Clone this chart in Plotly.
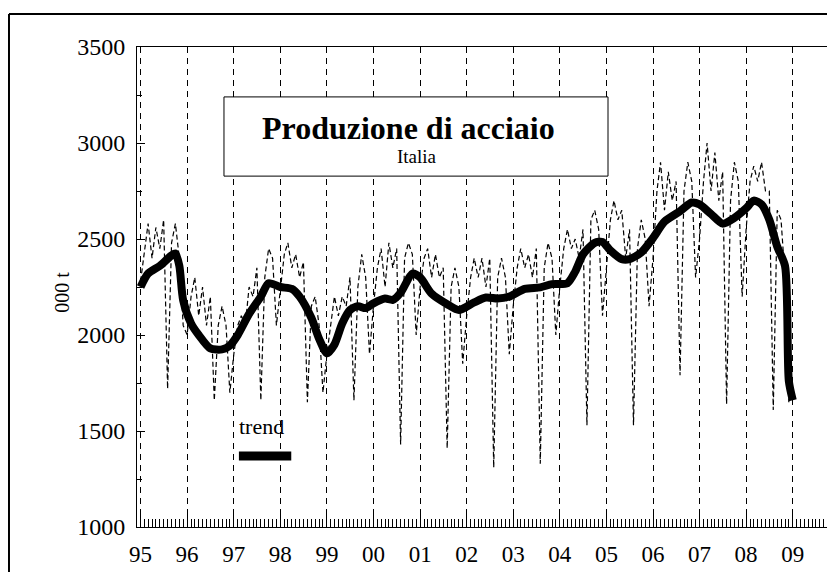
import plotly.graph_objects as go

# monthly steel production, Italy ('000 t), Jan 1995 - Dec 2008
years = list(range(1995, 2009))
monthly = {
    1995: [2280, 2450, 2580, 2400, 2560, 2450, 2600, 1720, 2480, 2580, 2400, 2050],
    1996: [2000, 2200, 2300, 2100, 2250, 2050, 2200, 1660, 2050, 2150, 2050, 1700],
    1997: [1900, 2050, 2100, 2050, 2250, 2200, 2350, 1660, 2300, 2450, 2400, 2050],
    1998: [2250, 2420, 2480, 2350, 2420, 2300, 2380, 1650, 2150, 2200, 2050, 1700],
    1999: [1900, 2050, 2200, 2100, 2200, 2150, 2300, 1660, 2250, 2420, 2300, 1900],
    2000: [2150, 2350, 2450, 2250, 2480, 2350, 2450, 1430, 2400, 2480, 2420, 2000],
    2001: [2250, 2400, 2450, 2300, 2420, 2300, 2350, 1410, 2250, 2350, 2250, 1850],
    2002: [2100, 2300, 2400, 2300, 2400, 2250, 2400, 1310, 2300, 2400, 2300, 1900],
    2003: [2150, 2350, 2450, 2350, 2420, 2300, 2450, 1330, 2350, 2480, 2400, 2000],
    2004: [2250, 2450, 2550, 2450, 2500, 2400, 2550, 1530, 2600, 2650, 2550, 2100],
    2005: [2350, 2600, 2700, 2600, 2650, 2400, 2550, 1530, 2450, 2600, 2500, 2150],
    2006: [2400, 2750, 2900, 2650, 2850, 2700, 2800, 1790, 2750, 2900, 2800, 2300],
    2007: [2500, 2800, 3000, 2750, 2950, 2700, 2850, 1640, 2700, 2900, 2800, 2200],
    2008: [2550, 2800, 2880, 2800, 2900, 2750, 2750, 1610, 2650, 2600, 2300, 1650],
}

trend_dates = [
    "1995-01", "1995-03", "1995-06", "1995-09", "1995-10", "1995-11", "1995-12",
    "1996-02", "1996-04", "1996-07", "1996-10", "1996-12",
    "1997-02", "1997-05", "1997-08", "1997-10",
    "1998-01", "1998-04", "1998-06", "1998-09", "1998-11",
    "1999-01", "1999-03", "1999-05", "1999-07", "1999-09", "1999-11",
    "2000-01", "2000-04", "2000-06", "2000-08", "2000-11",
    "2001-01", "2001-04", "2001-08", "2001-11",
    "2002-03", "2002-06", "2002-09", "2002-12",
    "2003-04", "2003-08", "2003-11",
    "2004-03", "2004-05", "2004-07", "2004-10", "2004-12",
    "2005-02", "2005-05", "2005-07", "2005-10",
    "2006-01", "2006-04", "2006-08", "2006-11",
    "2007-01", "2007-04", "2007-07", "2007-10",
    "2008-01", "2008-03", "2008-05", "2008-07", "2008-09", "2008-11", "2008-12",
    "2009-01",
]
trend_values = [
    2250, 2320, 2360, 2415, 2425, 2360, 2180,
    2060, 2000, 1930, 1925, 1945,
    2000, 2110, 2200, 2270,
    2250, 2240, 2200, 2090, 1980,
    1905, 1950, 2060, 2130, 2150, 2140,
    2165, 2190, 2183, 2220, 2320,
    2300, 2215, 2160, 2130,
    2170, 2195, 2190, 2200,
    2240, 2248, 2265,
    2270, 2330, 2420, 2480, 2485,
    2440, 2395, 2395, 2430,
    2505, 2590, 2645, 2690,
    2680, 2630, 2580, 2610,
    2660, 2700, 2680, 2600, 2460, 2360, 1760,
    1660,
]

month_dates = [f"{y}-{m:02d}" for y in years for m in range(1, 13)]
month_values = [v for y in years for v in monthly[y]]

SERIF = "Liberation Serif"

fig = go.Figure()
fig.add_trace(go.Scatter(
    x=month_dates, y=month_values, mode="lines",
    line=dict(color="black", width=1.2, dash="5px,3px"), showlegend=False,
))
fig.add_trace(go.Scatter(
    x=trend_dates, y=trend_values, mode="lines",
    line=dict(color="black", width=8, shape="spline", smoothing=0.7), showlegend=False,
))

# page body keeps its default 8px margin, so the figure is shifted by 8px
fig.update_layout(
    width=827, height=564,
    margin=dict(l=129, r=0, t=39, b=45),
    paper_bgcolor="white", plot_bgcolor="white",
    font=dict(family=SERIF, color="black", size=23),
    showlegend=False,
)

fig.update_xaxes(
    type="date", range=["1994-12-04", "2009-11-28"], automargin=False,
    tick0="1995-01-01", dtick="M12", tickformat="%y",
    ticks="inside", ticklen=12, tickcolor="black", tickwidth=1,
    minor=dict(dtick="M1", ticks="inside", ticklen=8, tickcolor="black", tickwidth=1),
    showgrid=True, gridcolor="black", gridwidth=1, griddash="6px,5px",
    showline=True, linecolor="black", linewidth=1, mirror=True,
    tickfont=dict(size=23, family=SERIF), ticklabelstandoff=6,
)
fig.update_yaxes(
    range=[1000, 3500], dtick=500, automargin=False,
    ticks="inside", ticklen=8, tickcolor="black",
    minor=dict(dtick=250, ticks="inside", ticklen=5, tickcolor="black"),
    showgrid=False, zeroline=False,
    showline=True, linecolor="black", linewidth=1,
    tickfont=dict(size=24, family=SERIF), ticklabelstandoff=6,
)

# paper coordinates below are relative to a 698x480 plot area
# title box
fig.add_shape(type="rect", xref="paper", yref="paper",
              x0=0.1246, x1=0.6748, y0=0.731, y1=0.896,
              line=dict(color="black", width=1), fillcolor="white", layer="above")
fig.add_annotation(text="<b>Produzione di acciaio</b>", xref="paper", yref="paper",
                   x=0.389, y=0.831, xanchor="center", yanchor="middle",
                   showarrow=False, font=dict(size=32, family=SERIF))
fig.add_annotation(text="Italia", xref="paper", yref="paper",
                   x=0.401, y=0.771, xanchor="center", yanchor="middle",
                   showarrow=False, font=dict(size=19, family=SERIF))

# trend legend
fig.add_annotation(text="trend", xref="paper", yref="paper",
                   x=0.179, y=0.21, xanchor="center", yanchor="middle",
                   showarrow=False, font=dict(size=22, family=SERIF))
fig.add_shape(type="line", xref="paper", yref="paper",
              x0=0.146, x1=0.221, y0=0.148, y1=0.148,
              line=dict(color="black", width=9))

# y axis title
fig.add_annotation(text="000 t", xref="paper", yref="paper",
                   x=-0.1075, y=0.49, xanchor="center", yanchor="middle",
                   textangle=-90, showarrow=False, font=dict(size=20, family=SERIF))

# outer frame: only its left and top sides fall inside the picture
fig.add_shape(type="line", xref="paper", yref="paper",
              x0=-0.1834, x1=-0.1834, y0=-0.2, y1=1.0688,
              line=dict(color="black", width=2), layer="below")
fig.add_shape(type="line", xref="paper", yref="paper",
              x0=-0.1834, x1=1.0, y0=1.0688, y1=1.0688,
              line=dict(color="black", width=2), layer="below")

fig.write_html("out.html")
